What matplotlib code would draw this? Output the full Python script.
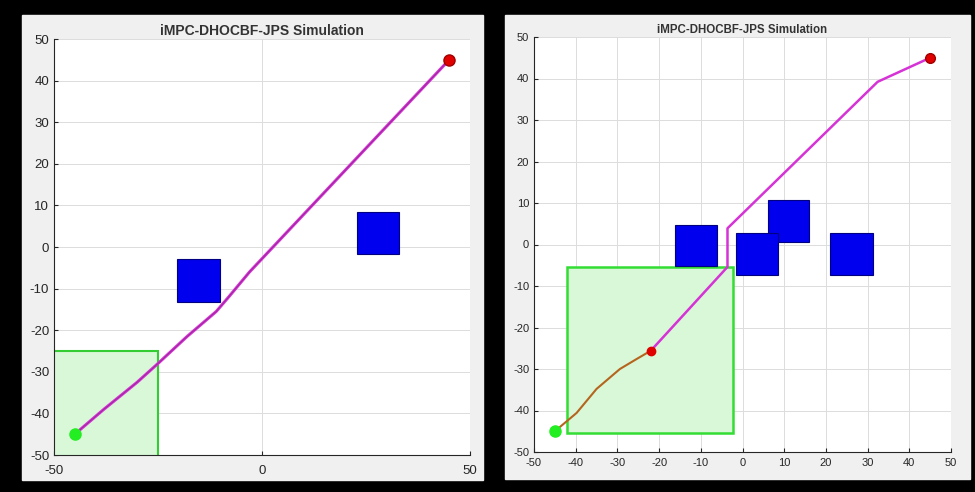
import numpy as np
import matplotlib.pyplot as plt
from matplotlib.patches import Rectangle

plt.rcParams['font.family'] = ['Liberation Sans', 'DejaVu Sans']
plt.rcParams['axes.unicode_minus'] = False

## Données
titre = "iMPC-DHOCBF-JPS Simulation"
start = (-45, -45)
goal = (45, 45)

# panneau gauche
obs_gauche = [(-20.4, -13.2, 10.2, 10.2), (22.8, -1.7, 10.1, 10.1)]   # x, y, w, h
zone_gauche = (-65, -65, 40, 40)   # zone verte autour du départ
chemin_gauche_x = [-45, -38, -30, -25, -18, -11, -8, -3, 45]
chemin_gauche_y = [-45, -39, -32.5, -28, -21.5, -15.5, -12, -6, 45]

# panneau droit
obs_droite = [(-16.3, -5.3, 10.1, 10.0), (6.0, 0.7, 10.0, 10.0),
              (-1.6, -7.3, 10.2, 10.0), (21.0, -7.3, 10.2, 10.0)]
zone_droite = (-42.2, -45.4, 40, 40)
traj_x = [-45, -39.8, -35.0, -29.4, -25.4, -22.0]
traj_y = [-45, -40.6, -34.8, -30.0, -27.6, -25.6]
plan_x = [-22.0, -3.6, -3.6, 32.4, 45]
plan_y = [-25.6, -5.4, 3.9, 39.2, 45]
robot = (-22.0, -25.6)

fig = plt.figure(figsize=(9.75, 4.92), dpi=100)
fig.patch.set_facecolor('black')

# fonds gris des deux captures
fond = fig.add_axes([0, 0, 1, 1], zorder=-10)
fond.set_xlim(0, 975)
fond.set_ylim(492, 0)
fond.axis('off')
fond.add_patch(Rectangle((22, 15), 461, 465, color='#f0f0f0'))
fond.add_patch(Rectangle((505, 15), 465, 464, color='#f0f0f0'))

ax1 = fig.add_axes([54/975, 1-455/492, 416/975, 416/492])
ax2 = fig.add_axes([534/975, 1-452/492, 417/975, 415/492])

def style(ax, xt, fs, fs_titre, pad_x):
    ax.set_facecolor('white')
    ax.set_xlim(-50, 50)
    ax.set_ylim(-50, 50)
    ax.set_xticks(xt)
    ax.set_yticks(np.arange(-50, 51, 10))
    ax.spines['top'].set_visible(False)
    ax.spines['right'].set_visible(False)
    for s in ['left', 'bottom']:
        ax.spines[s].set_color('#262626')
        ax.spines[s].set_linewidth(0.8)
    ax.tick_params(labelsize=fs, colors='#262626', length=3, direction='in')
    ax.tick_params(axis='x', pad=pad_x)
    ax.grid(True, color='#dcdcdc', linewidth=0.7)
    ax.set_axisbelow(True)
    ax.set_title(titre, fontsize=fs_titre, fontweight='bold', color='#333333', pad=3)

## gauche
style(ax1, [-50, 0, 50], 9.5, 10, 7)
ax1.add_patch(Rectangle(zone_gauche[:2], zone_gauche[2], zone_gauche[3],
                        facecolor='#d8f8d8', edgecolor='#33cc33', linewidth=1.5, zorder=2))
for (x, y, w, h) in obs_gauche:
    ax1.add_patch(Rectangle((x, y), w, h, facecolor='#0000ee', edgecolor='#000080',
                            linewidth=0.8, zorder=3))
ax1.plot(chemin_gauche_x, chemin_gauche_y, color='#d633d6', linewidth=2.2, zorder=4)
ax1.plot(chemin_gauche_x, chemin_gauche_y, color='#602060', linewidth=0.6, alpha=0.6, zorder=4)
ax1.plot(*start, 'o', color='#22ee22', markersize=8, zorder=5, clip_on=False)
ax1.plot(*goal, 'o', color='#e00000', markeredgecolor='#a00000', markersize=8, zorder=5, clip_on=False)

## droite
style(ax2, np.arange(-50, 51, 10), 8, 8.3, 4)
ax2.add_patch(Rectangle(zone_droite[:2], zone_droite[2], zone_droite[3],
                        facecolor='#d8f8d8', edgecolor='#33dd33', linewidth=1.8, zorder=2))
for (x, y, w, h) in obs_droite:
    ax2.add_patch(Rectangle((x, y), w, h, facecolor='#0000ee', edgecolor='#000080',
                            linewidth=0.8, zorder=3))
ax2.plot(plan_x, plan_y, color='#d633d6', linewidth=1.8, zorder=4)
ax2.plot(traj_x, traj_y, color='#b5651d', linewidth=1.5, zorder=4)
ax2.plot(*start, 'o', color='#22ee22', markersize=8, zorder=5, clip_on=False)
ax2.plot(*robot, 'o', color='#e00000', markersize=6, zorder=5)
ax2.plot(*goal, 'o', color='#e00000', markeredgecolor='#a00000', markersize=7, zorder=5, clip_on=False)

plt.savefig("out.png", dpi=100, facecolor=fig.get_facecolor())
